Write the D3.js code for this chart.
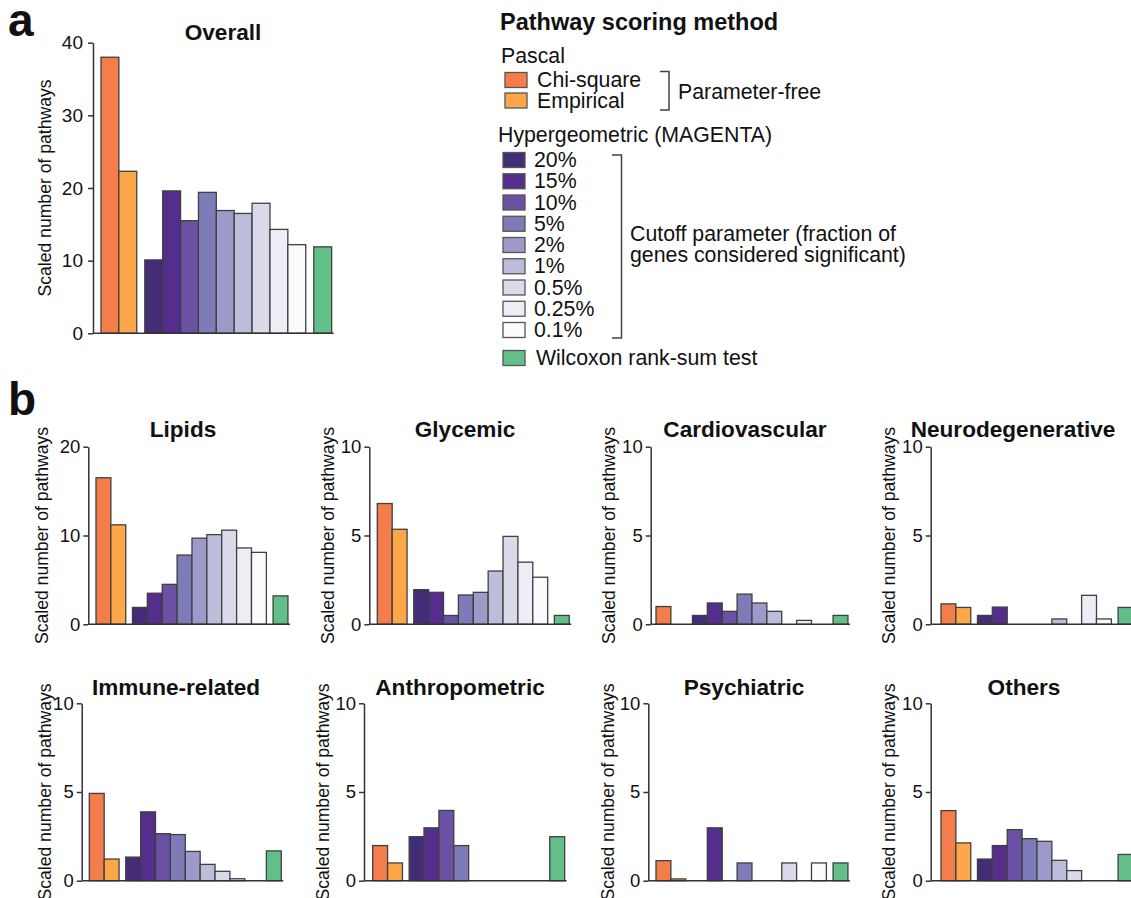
<!DOCTYPE html>
<html>
<head>
<meta charset="utf-8">
<script src="https://cdn.jsdelivr.net/npm/d3@7"></script>
<style>
  html, body { margin: 0; padding: 0; background: #fff; }
  svg { display: block; font-family: "Liberation Sans", Arial, Helvetica, sans-serif; }
</style>
</head>
<body>
<svg id="fig" width="1131" height="898"></svg>
<script>
// Scoring methods, in bar order
const methods = ["Chi-square", "Empirical", "20%", "15%", "10%", "5%", "2%", "1%", "0.5%", "0.25%", "0.1%", "Wilcoxon rank-sum test"];
// 0 = Pascal, 1 = Hypergeometric (MAGENTA), 2 = Wilcoxon
const methodGroup = [0, 0, 1, 1, 1, 1, 1, 1, 1, 1, 1, 2];
const methodColors = ["#f47e4b", "#fca84a", "#432d77", "#552d8d", "#6a51a3", "#7e7cb8", "#9d99c8",
                      "#bcbcdb", "#dadaea", "#eeedf6", "#fbfbfd", "#63bf8a"];

// Scaled number of pathways per method
const overall           = [38.0, 22.3, 10.1, 19.6, 15.5, 19.4, 16.9, 16.5, 17.9, 14.3, 12.2, 11.9];
const lipids            = [16.5, 11.2, 1.9, 3.5, 4.5, 7.8, 9.7, 10.1, 10.6, 8.6, 8.1, 3.2];
const glycemic          = [6.8, 5.35, 1.95, 1.8, 0.5, 1.65, 1.8, 3.0, 4.95, 3.5, 2.65, 0.5];
const cardiovascular    = [1.0, 0, 0.5, 1.2, 0.73, 1.7, 1.2, 0.73, 0, 0.22, 0, 0.5];
const neurodegenerative = [1.15, 0.95, 0.5, 0.97, 0, 0, 0, 0.3, 0, 1.63, 0.3, 0.95];
const immuneRelated     = [4.92, 1.22, 1.33, 3.88, 2.65, 2.6, 1.65, 0.92, 0.53, 0.11, 0, 1.68];
const anthropometric    = [1.98, 1.0, 2.48, 2.98, 3.96, 1.98, 0, 0, 0, 0, 0, 2.48];
const psychiatric       = [1.13, 0.1, 0, 2.98, 0, 1.0, 0, 0, 1.0, 0, 1.0, 1.0];
const others            = [3.95, 2.13, 1.22, 1.98, 2.88, 2.37, 2.22, 1.15, 0.57, 0, 0, 1.48];

// Panel titles and axis ticks
const panelTitles = ["Overall", "Lipids", "Glycemic", "Cardiovascular", "Neurodegenerative",
                     "Immune-related", "Anthropometric", "Psychiatric", "Others"];
const panelValues = [overall, lipids, glycemic, cardiovascular, neurodegenerative,
                     immuneRelated, anthropometric, psychiatric, others];
const panelTicks = [[0, 10, 20, 30, 40], [0, 10, 20], [0, 5, 10], [0, 5, 10], [0, 5, 10],
                    [0, 5, 10], [0, 5, 10], [0, 5, 10], [0, 5, 10]];

// Legend text
const legendTitle = "Pathway scoring method";
const pascalLabel = "Pascal";
const hyperLabel = "Hypergeometric (MAGENTA)";
const paramFreeLabel = "Parameter-free";
const cutoffLabel = ["Cutoff parameter (fraction of", "genes considered significant)"];
const axisLabel = "Scaled number of pathways";

// ---------------- layout ----------------
const GAP = 0.45;            // gap between method groups, in bar widths
const UNITS = 12 + 2 * GAP;  // total bar-slot units per panel
const layout = [
  // ax: y-axis x, bx: first bar left, bw: bar slot, y0/y1: pixel of 0 and of top tick
  { ax: 93,    bx: 101,   bw: 17.88, y0: 333.3, y1: 42.7,  lx: 44.7, tx: 223,  ty: 40,  big: true },
  { ax: 88.3,  bx: 96,    bw: 14.88, y0: 624.3, y1: 446.7, lx: 41.7, tx: 183,  ty: 437 },
  { ax: 369.3, bx: 377.3, bw: 14.88, y0: 624.3, y1: 446.7, lx: 327.5, tx: 465, ty: 437 },
  { ax: 650.7, bx: 656,   bw: 14.88, y0: 624.3, y1: 446.7, lx: 609,  tx: 745,  ty: 437 },
  { ax: 930.7, bx: 941,   bw: 14.88, y0: 624.3, y1: 446.7, lx: 889,  tx: 1013, ty: 437 },
  { ax: 81.7,  bx: 89.3,  bw: 14.88, y0: 880.7, y1: 703.3, lx: 45,   tx: 176,  ty: 695 },
  { ax: 364,   bx: 372.7, bw: 14.88, y0: 880.7, y1: 703.3, lx: 323,  tx: 460,  ty: 695 },
  { ax: 648.3, bx: 656,   bw: 14.88, y0: 880.7, y1: 703.3, lx: 608,  tx: 744,  ty: 695 },
  { ax: 930.7, bx: 941,   bw: 14.88, y0: 880.7, y1: 703.3, lx: 888.7, tx: 1024, ty: 695 }
];

const AXIS_COLOR = "#333";
const BAR_STROKE = "#404040";

const svg = d3.select("#fig");

function drawPanel(i) {
  const L = layout[i];
  const vals = panelValues[i];
  const ticks = panelTicks[i];
  const g = svg.append("g");

  const y = d3.scaleLinear().domain([0, d3.max(ticks)]).range([L.y0, L.y1]);
  const x = d3.scaleLinear().domain([0, UNITS]).range([L.bx, L.bx + UNITS * L.bw]);
  const slot = k => k + GAP * methodGroup[k];

  // bars
  g.append("g").selectAll("rect")
    .data(vals.map((v, k) => ({ v, k })).filter(d => d.v > 0))
    .join("rect")
    .attr("x", d => x(slot(d.k)))
    .attr("width", L.bw)
    .attr("y", d => y(d.v))
    .attr("height", d => y(0) - y(d.v))
    .attr("fill", d => methodColors[d.k])
    .attr("stroke", BAR_STROKE)
    .attr("stroke-width", 1.3);

  // y axis
  const ya = g.append("g")
    .attr("transform", `translate(${L.ax},0)`)
    .call(d3.axisLeft(y).tickValues(ticks).tickSize(5).tickSizeOuter(0)
            .tickPadding(L.big ? 5 : 3).tickFormat(d3.format("d")));
  ya.select(".domain").attr("stroke", AXIS_COLOR).attr("stroke-width", 1.5);
  ya.selectAll(".tick line").attr("stroke", AXIS_COLOR).attr("stroke-width", 1.5);
  ya.selectAll(".tick text")
    .attr("fill", "#111")
    .style("font-size", L.big ? "19px" : "18.5px")
    .style("font-family", "'Liberation Sans', Arial, sans-serif");

  // x baseline
  g.append("line")
    .attr("x1", L.ax).attr("x2", x(UNITS) + 2)
    .attr("y1", y(0)).attr("y2", y(0))
    .attr("stroke", AXIS_COLOR).attr("stroke-width", 1.5);

  // y axis title
  g.append("text")
    .attr("transform", `translate(${L.lx},${(L.y0 + L.y1) / 2}) rotate(-90)`)
    .attr("text-anchor", "middle")
    .attr("dominant-baseline", "central")
    .style("font-size", "17.6px")
    .attr("fill", "#111")
    .text(axisLabel);

  // panel title
  g.append("text")
    .attr("x", L.tx).attr("y", L.ty)
    .attr("text-anchor", "middle")
    .style("font-size", "22.6px")
    .style("font-weight", "bold")
    .attr("fill", "#111")
    .text(panelTitles[i]);
}

layout.forEach((_, i) => drawPanel(i));

// panel letters
svg.append("text").attr("x", 8).attr("y", 36)
  .style("font-size", "46px").style("font-weight", "bold").attr("fill", "#111").text("a");
svg.append("text").attr("x", 8).attr("y", 415)
  .style("font-size", "46px").style("font-weight", "bold").attr("fill", "#111").text("b");

// ---------------- legend ----------------
const lg = svg.append("g").style("font-size", "21.3px").attr("fill", "#111");
lg.append("text").attr("x", 500).attr("y", 30)
  .style("font-weight", "bold").style("font-size", "23.5px").text(legendTitle);
lg.append("text").attr("x", 501).attr("y", 63).text(pascalLabel);

const SW_W = 22, SW_H = 15;
function swatch(k, xs, yc, xt) {
  lg.append("rect")
    .attr("x", xs).attr("y", yc - SW_H / 2)
    .attr("width", SW_W).attr("height", SW_H)
    .attr("fill", methodColors[k])
    .attr("stroke", "#555").attr("stroke-width", 1.3);
  lg.append("text").attr("x", xt).attr("y", yc)
    .attr("dominant-baseline", "central")
    .text(methods[k]);
}

// Pascal entries
[0, 1].forEach((k, j) => swatch(k, 505, 80 + j * 20.5, 537));
// Hypergeometric entries
lg.append("text").attr("x", 498).attr("y", 135).attr("dominant-baseline", "central").text(hyperLabel);
d3.range(2, 11).forEach((k, j) => swatch(k, 503, 160 + j * 21.25, 534));
// Wilcoxon
swatch(11, 503, 358, 536);

// brackets
function bracket(x0, x1, yTop, yBot) {
  lg.append("path")
    .attr("d", `M${x0},${yTop}H${x1}V${yBot}H${x0}`)
    .attr("fill", "none").attr("stroke", "#444").attr("stroke-width", 1.5);
}
bracket(660, 669, 71.5, 110);
lg.append("text").attr("x", 678).attr("y", 92).attr("dominant-baseline", "central").text(paramFreeLabel);
bracket(612, 621.5, 155, 338);
cutoffLabel.forEach((t, j) =>
  lg.append("text").attr("x", 630).attr("y", 233.5 + j * 21).attr("dominant-baseline", "central").text(t));
</script>
</body>
</html>
